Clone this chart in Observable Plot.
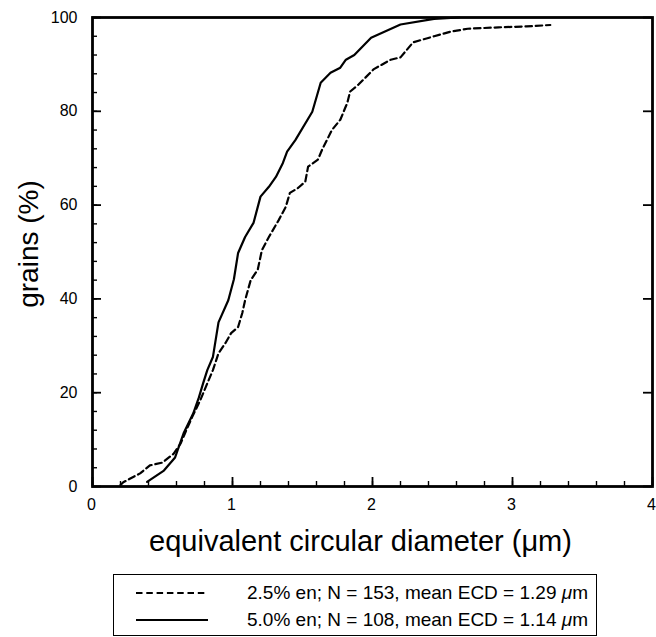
<!DOCTYPE html>
<html><head><meta charset="utf-8">
<script src="https://cdn.jsdelivr.net/npm/d3@7"></script>
<script src="https://cdn.jsdelivr.net/npm/@observablehq/plot@0.6"></script>
<style>
body{margin:0;background:#fff;font-family:"Liberation Sans",Arial,sans-serif;}
#wrap{position:relative;width:656px;height:637px;overflow:hidden;background:#fff;}
#legend{position:absolute;left:113px;top:574px;width:484px;height:62px;border:1.5px solid #000;box-sizing:border-box;}
.row{position:absolute;left:0;height:22px;width:100%;}
.row svg{position:absolute;left:21px;top:1px;}
.row span{position:absolute;left:133px;top:0;font-size:19px;line-height:22px;white-space:nowrap;color:#000;}
</style></head><body>
<div id="wrap"><div id="chart"></div><div id="legend"></div></div>
<script>
// 2.5% en (dashed)
const dashedX = [0.20,0.22,0.34,0.41,0.50,0.58,0.63,0.66,0.71,0.77,0.82,0.86,0.90,0.95,0.99,1.04,1.07,1.09,1.13,1.18,1.21,1.26,1.33,1.38,1.41,1.47,1.52,1.54,1.61,1.64,1.71,1.77,1.82,1.84,1.90,2.01,2.04,2.13,2.20,2.29,2.44,2.56,2.68,2.90,3.10,3.27];
const dashedY = [0.3,0.9,2.8,4.5,5.1,7.0,9.2,11.3,14.7,18.4,22.0,24.8,28.4,30.6,32.7,34.0,37.0,39.7,44.0,46.2,50.4,53.2,56.8,59.6,62.6,63.7,65.0,68.2,69.7,71.8,76.0,78.2,81.8,84.2,85.7,89.0,89.5,91.0,91.5,94.7,96.0,97.0,97.6,97.9,98.1,98.4];
// 5.0% en (solid)
const solidX = [0.39,0.51,0.59,0.65,0.72,0.76,0.79,0.82,0.86,0.90,0.97,1.01,1.04,1.09,1.15,1.20,1.26,1.31,1.36,1.39,1.45,1.57,1.63,1.70,1.77,1.81,1.87,1.99,2.20,2.44,2.62];
const solidY = [1.0,3.4,6.2,11.3,15.6,19.0,22.0,24.8,27.6,35.0,39.7,44.2,49.8,53.2,56.2,61.8,63.9,66.0,69.0,71.4,73.9,79.9,86.1,88.2,89.3,91.0,92.0,95.7,98.5,99.7,100];

const seriesLabels = ["2.5% en; N = 153, mean ECD = 1.29 μm", "5.0% en; N = 108, mean ECD = 1.14 μm"];
const seriesDash = ["6.5,3.8", null];
const xMajorTicks = [0,1,2,3,4];
const yMajorTicks = [0,20,40,60,80,100];
const xMinorTicks = d3.range(0, 4.0001, 0.2);
const yMinorTicks = d3.range(0, 100.0001, 4);
const xTitle = "equivalent circular diameter (μm)";
const yTitle = "grains (%)";

const dashed = dashedX.map((x,i)=>({x, y: dashedY[i]}));
const solid = solidX.map((x,i)=>({x, y: solidY[i]}));

const H = 566;
const mL = 92, mR = 4, mT = 17, mB = H - 486;
const fw = 656 - mL - mR, fh = H - mT - mB;
const xDom = [0, 4], yDom = [0, 100];
// tick lengths in pixels converted to data units
const pxX = (xDom[1] - xDom[0]) / fw, pxY = (yDom[1] - yDom[0]) / fh;
const minorLen = 5, majorLen = 9;

const chart = Plot.plot({
  width: 656, height: H,
  marginLeft: mL, marginRight: mR, marginTop: mT, marginBottom: mB,
  x: {domain: xDom},
  y: {domain: yDom},
  style: {fontFamily: "'Liberation Sans', Arial, sans-serif", color: "#000", background: "#fff"},
  marks: [
    // inward ticks
    Plot.ruleX(xMinorTicks, {x: d => d, y1: yDom[0], y2: yDom[0] + minorLen * pxY, stroke: "#000", strokeWidth: 1.4}),
    Plot.ruleX(xMajorTicks, {x: d => d, y1: yDom[0], y2: yDom[0] + majorLen * pxY, stroke: "#000", strokeWidth: 1.8}),
    Plot.ruleY(yMinorTicks, {y: d => d, x1: xDom[0], x2: xDom[0] + minorLen * pxX, stroke: "#000", strokeWidth: 1.4}),
    Plot.ruleY(yMajorTicks, {y: d => d, x1: xDom[0], x2: xDom[0] + majorLen * pxX, stroke: "#000", strokeWidth: 1.8}),
    Plot.ruleY(yMajorTicks, {y: d => d, x1: xDom[1] - majorLen * pxX, x2: xDom[1], stroke: "#000", strokeWidth: 1.8}),
    // tick labels
    Plot.axisX(xMajorTicks, {tickSize: 0, tickPadding: 12, fontSize: 16, dx: -1, label: null, tickFormat: d3.format("d")}),
    Plot.axisY(yMajorTicks, {anchor: "left", tickSize: 0, tickPadding: 15, fontSize: 16, label: null, tickFormat: d3.format("d")}),
    Plot.line(dashed, {x: "x", y: "y", stroke: "#000", strokeWidth: 2.2, strokeDasharray: seriesDash[0]}),
    Plot.line(solid, {x: "x", y: "y", stroke: "#000", strokeWidth: 2.2}),
    Plot.frame({stroke: "#000", strokeWidth: 2.8}),
    Plot.text([xTitle], {frameAnchor: "bottom", dx: -12, dy: 55, fontSize: 29, textAnchor: "middle", lineAnchor: "middle", fill: "#000"}),
    Plot.text([yTitle], {frameAnchor: "left", dx: -63, dy: -8, rotate: -90, fontSize: 28, textAnchor: "middle", lineAnchor: "middle", fill: "#000"})
  ]
});
document.getElementById("chart").appendChild(chart);

const legend = document.getElementById("legend");
const rowTops = [7, 34];
seriesLabels.forEach((lab, i) => {
  const row = document.createElement("div");
  row.className = "row";
  row.style.top = rowTops[i] + "px";
  const dash = seriesDash[i] ? `stroke-dasharray="${seriesDash[i]}"` : "";
  row.innerHTML = `<svg width="74" height="20"><line x1="1" x2="73" y1="10" y2="10" stroke="#000" stroke-width="2.2" ${dash}/></svg>` +
    `<span>${lab.replace("μ", "<i>μ</i>")}</span>`;
  legend.appendChild(row);
});
</script>
</body></html>
